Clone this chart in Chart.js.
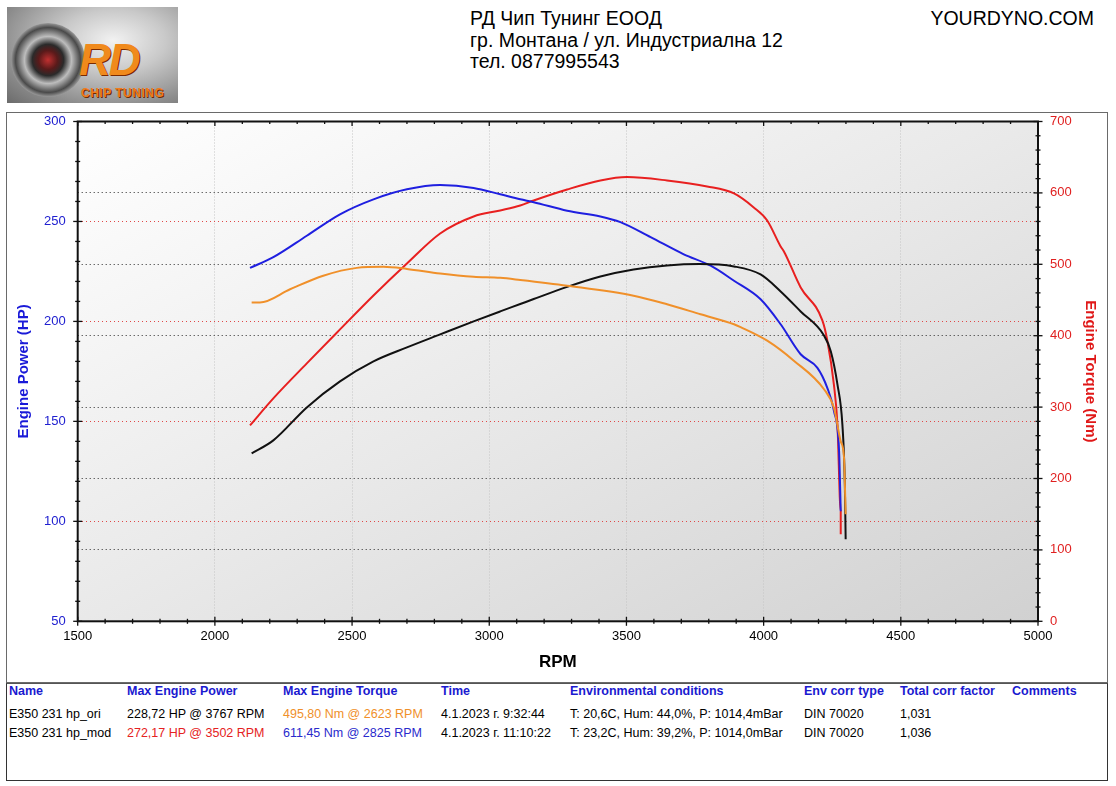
<!DOCTYPE html>
<html>
<head>
<meta charset="utf-8">
<script src="https://cdn.jsdelivr.net/npm/chart.js@4.4.1/dist/chart.umd.min.js"></script>
<style>
html,body{margin:0;padding:0;background:#fff;width:1116px;height:786px;overflow:hidden;font-family:"Liberation Sans",Arial,sans-serif;}
.abs{position:absolute;white-space:nowrap;}
#logo{left:7px;top:7px;width:171px;height:96px;overflow:hidden;
  background:radial-gradient(ellipse at 62% 35%,#f2f2f2 0%,#c9c9c9 35%,#8d8d8d 75%,#6b6b6b 100%);}
#turbo{left:4px;top:16px;width:74px;height:74px;border-radius:50%;
  background:radial-gradient(circle at 50% 50%,#c03030 0%,#5a1a1a 18%,#2a2a2a 30%,#bdbdbd 45%,#4a4a4a 62%,#dadada 78%,#555 100%);}
#rd{left:72px;top:28px;font:italic 900 44px "Liberation Sans",Arial,sans-serif;letter-spacing:-2px;
  color:#f08a1c;text-shadow:1px 1px 0 #7a2a00;}
#chip{left:74px;top:79px;font:bold 12px "Liberation Sans",Arial,sans-serif;color:#f07a1c;letter-spacing:0.5px;text-shadow:1px 1px 0 #6a2a00;}
.hdr{left:470px;font-size:19.5px;line-height:21px;color:#000;}
#site{right:22px;top:7px;font-size:19.5px;line-height:21px;color:#000;}
#frame{left:6px;top:112px;width:1102px;height:571px;box-sizing:border-box;border:1.5px solid #6a6a6a;}
#chartbox{left:6px;top:112px;width:1102px;height:570px;}
#table{left:6px;top:683px;width:1102px;height:98px;box-sizing:border-box;border:1.5px solid #333;border-top:1.5px solid #555;}
.th{font-weight:bold;color:#1a1ad0;font-size:12.5px;line-height:15px;}
.td{color:#000;font-size:12.5px;line-height:15px;}
</style>
</head>
<body>
<div id="logo" class="abs">
  <div id="turbo" class="abs"></div>
  <div id="rd" class="abs">RD</div>
  <div id="chip" class="abs">CHIP TUNING</div>
</div>
<div class="abs hdr" style="top:8px">РД Чип Тунинг ЕООД</div>
<div class="abs hdr" style="top:30px">гр. Монтана / ул. Индустриална 12</div>
<div class="abs hdr" style="top:51px">тел. 0877995543</div>
<div id="site" class="abs" style="top:8px">YOURDYNO.COM</div>

<div id="frame" class="abs"></div>
<div id="chartbox" class="abs"><canvas id="c"></canvas></div>

<div id="table" class="abs"></div>
<div class="abs th" style="left:9px;top:684px">Name</div>
<div class="abs th" style="left:127px;top:684px">Max Engine Power</div>
<div class="abs th" style="left:283px;top:684px">Max Engine Torque</div>
<div class="abs th" style="left:441px;top:684px">Time</div>
<div class="abs th" style="left:570px;top:684px">Environmental conditions</div>
<div class="abs th" style="left:804px;top:684px">Env corr type</div>
<div class="abs th" style="left:900px;top:684px">Total corr factor</div>
<div class="abs th" style="left:1012px;top:684px">Comments</div>

<div class="abs td" style="left:9px;top:707px">E350 231 hp_ori</div>
<div class="abs td" style="left:127px;top:707px">228,72 HP @ 3767 RPM</div>
<div class="abs td" style="left:283px;top:707px;color:#f0902a">495,80 Nm @ 2623 RPM</div>
<div class="abs td" style="left:441px;top:707px">4.1.2023 г. 9:32:44</div>
<div class="abs td" style="left:570px;top:707px">T: 20,6C, Hum: 44,0%, P: 1014,4mBar</div>
<div class="abs td" style="left:804px;top:707px">DIN 70020</div>
<div class="abs td" style="left:900px;top:707px">1,031</div>

<div class="abs td" style="left:9px;top:726px">E350 231 hp_mod</div>
<div class="abs td" style="left:127px;top:726px;color:#e52222">272,17 HP @ 3502 RPM</div>
<div class="abs td" style="left:283px;top:726px;color:#2a2acc">611,45 Nm @ 2825 RPM</div>
<div class="abs td" style="left:441px;top:726px">4.1.2023 г. 11:10:22</div>
<div class="abs td" style="left:570px;top:726px">T: 23,2C, Hum: 39,2%, P: 1014,0mBar</div>
<div class="abs td" style="left:804px;top:726px">DIN 70020</div>
<div class="abs td" style="left:900px;top:726px">1,036</div>

<script>
// ---- DATA ----
const rpmModPower = [2128,2213,2335,2456,2578,2700,2821,2943,3040,3113,3162,3284,3405,3502,3648,3794,3892,3964,4013,4062,4074,4135,4214,4232,4256,4269,4281,4281];
const hpModPower  = [148,161.5,179,196,213,229,244,252.5,255.5,258,260.5,266,270.5,272.2,270.5,267.5,264,257,250.5,237.5,235,217,200.5,190.5,168.5,148.5,105,93.5];

const rpmModTorque = [2128,2213,2335,2456,2578,2700,2821,2943,3040,3113,3162,3284,3405,3478,3588,3709,3807,3892,3989,4062,4135,4196,4232,4256,4275,4281];
const nmModTorque  = [495,510,540,570,591,605,611,607,598,591,587,575,567,559,538,514,498,477,451,416,374,355,327,295,238,154];

const rpmOriPower = [2134,2213,2335,2456,2578,2700,2821,2943,3040,3113,3162,3284,3405,3526,3648,3767,3892,3989,4062,4135,4220,4245,4269,4287,4296,4299];
const hpOriPower  = [134,140.5,157,170,180,187,193.5,200,205,208.7,211.2,217.3,222.5,226,228,228.7,227.5,223.5,215,205,193,185,168.5,148.5,118.5,91];

const rpmOriTorque = [2134,2164,2274,2395,2517,2614,2700,2821,2943,3040,3113,3284,3526,3648,3770,3892,3916,4013,4110,4220,4256,4281,4293,4299];
const nmOriTorque  = [446.5,446.5,465,484,495,496.5,493.5,487,482.5,481,478,470,456,444,430,416,412,393,365,325,299,252,229,150];

const xMin = 1500, xMax = 5000, xStep = 100, xMajor = 500;
const hpMin = 50, hpMax = 300, hpStep = 10, hpMajor = 50;
const nmMin = 0, nmMax = 700, nmStep = 20, nmMajor = 100;

const xTitle = 'RPM';
const hpTitle = 'Engine Power (HP)';
const nmTitle = 'Engine Torque (Nm)';

// ---- helpers ----
const pts = (xs, ys) => xs.map((x, i) => ({x, y: ys[i]}));
const FONT = '"Liberation Sans", Arial, sans-serif';

const bgPlugin = {
  id: 'bg',
  beforeDraw(chart) {
    const {ctx, chartArea: a} = chart;
    const W = a.right - a.left, H = a.bottom - a.top;
    const nx = 1 / W, ny = 1 / H, n2 = nx * nx + ny * ny;
    const g = ctx.createLinearGradient(a.left, a.top, a.left + nx * 2 / n2, a.top + ny * 2 / n2);
    g.addColorStop(0, '#ffffff');
    g.addColorStop(0.5, '#e9e9e9');
    g.addColorStop(1, '#d1d1d1');
    ctx.save();
    ctx.fillStyle = g;
    ctx.fillRect(a.left, a.top, W, H);
    ctx.restore();
  }
};

const boxPlugin = {
  id: 'box',
  afterDraw(chart) {
    const {ctx, chartArea: a, scales} = chart;
    ctx.save();
    ctx.strokeStyle = '#111';
    ctx.lineWidth = 1.3;
    const line = (x1, y1, x2, y2) => { ctx.beginPath(); ctx.moveTo(x1, y1); ctx.lineTo(x2, y2); ctx.stroke(); };
    for (const t of scales.x.ticks) {
      const p = scales.x.getPixelForValue(t.value);
      const L = (t.value % xMajor === 0) ? 4.5 : 2.5;
      line(p, a.bottom - L, p, a.bottom + L);
      line(p, a.top, p, a.top + L);
    }
    for (const t of scales.y.ticks) {
      const p = scales.y.getPixelForValue(t.value);
      const L = (t.value % hpMajor === 0) ? 4.5 : 2.5;
      line(a.left - L, p, a.left + L, p);
    }
    for (const t of scales.y1.ticks) {
      const p = scales.y1.getPixelForValue(t.value);
      const L = (t.value % nmMajor === 0) ? 4.5 : 2.5;
      line(a.right - L, p, a.right + L, p);
    }
    ctx.lineWidth = 2;
    ctx.strokeRect(a.left, a.top, a.right - a.left, a.bottom - a.top);
    ctx.restore();
  }
};

const lineDs = (label, data, color, axis) => ({
  label, data, yAxisID: axis,
  borderColor: color, backgroundColor: color,
  borderWidth: 2, pointRadius: 0, cubicInterpolationMode: 'monotone', fill: false
});

const fitY = w => s => { s.width = w; s.paddingTop = 9.5; s.paddingBottom = 0; };

new Chart(document.getElementById('c'), {
  type: 'line',
  data: {
    datasets: [
      lineDs('E350 231 hp_ori torque', pts(rpmOriTorque, nmOriTorque), '#f0902a', 'y1'),
      lineDs('E350 231 hp_ori power', pts(rpmOriPower, hpOriPower), '#111111', 'y'),
      lineDs('E350 231 hp_mod torque', pts(rpmModTorque, nmModTorque), '#1f1fe0', 'y1'),
      lineDs('E350 231 hp_mod power', pts(rpmModPower, hpModPower), '#e82020', 'y')
    ]
  },
  options: {
    responsive: true,
    maintainAspectRatio: false,
    animation: false,
    parsing: false,
    layout: {padding: 0},
    plugins: {legend: {display: false}, tooltip: {enabled: false}},
    scales: {
      x: {
        type: 'linear', min: xMin, max: xMax,
        afterFit: s => { s.height = 60.7; s.paddingLeft = 0; s.paddingRight = 0; },
        ticks: {
          stepSize: xStep, autoSkip: false, maxRotation: 0, padding: 7,
          color: '#000', font: {family: FONT, size: 13},
          callback: v => (v % xMajor === 0 ? v : '')
        },
        grid: {
          drawTicks: false,
          color: c => (c.tick && c.tick.value % xMajor === 0 && c.tick.value > xMin && c.tick.value < xMax) ? '#c4c4c4' : 'rgba(0,0,0,0)',
          lineWidth: 1
        },
        border: {display: false, dash: [1, 2]},
        title: {display: true, text: xTitle, color: '#000', font: {family: FONT, size: 17, weight: 'bold'}, padding: {top: 0, bottom: 9}}
      },
      y: {
        type: 'linear', position: 'left', min: hpMin, max: hpMax,
        afterFit: fitY(71.7),
        ticks: {
          stepSize: hpStep, autoSkip: false, padding: 12,
          color: '#2020d0', font: {family: FONT, size: 13},
          callback: v => (v % hpMajor === 0 ? v : '')
        },
        grid: {
          drawTicks: false,
          color: c => (c.tick && c.tick.value % hpMajor === 0 && c.tick.value > hpMin && c.tick.value < hpMax) ? '#e04848' : 'rgba(0,0,0,0)',
          lineWidth: 1
        },
        border: {display: false, dash: [1, 3]},
        title: {display: true, text: hpTitle, color: '#1a1ad8', font: {family: FONT, size: 15, weight: 'bold'}, padding: {top: 9, bottom: 0}}
      },
      y1: {
        type: 'linear', position: 'right', min: nmMin, max: nmMax,
        afterFit: fitY(70),
        ticks: {
          stepSize: nmStep, autoSkip: false, padding: 12,
          color: '#e02020', font: {family: FONT, size: 13},
          callback: v => (v % nmMajor === 0 ? v : '')
        },
        grid: {
          drawTicks: false,
          color: c => (c.tick && c.tick.value % nmMajor === 0 && c.tick.value > nmMin && c.tick.value < nmMax) ? '#2a2a2a' : 'rgba(0,0,0,0)',
          lineWidth: 1
        },
        border: {display: false, dash: [1, 3]},
        title: {display: true, text: nmTitle, color: '#e01818', font: {family: FONT, size: 15, weight: 'bold'}, padding: {top: 9, bottom: 0}}
      }
    }
  },
  plugins: [bgPlugin, boxPlugin]
});
</script>
</body>
</html>
